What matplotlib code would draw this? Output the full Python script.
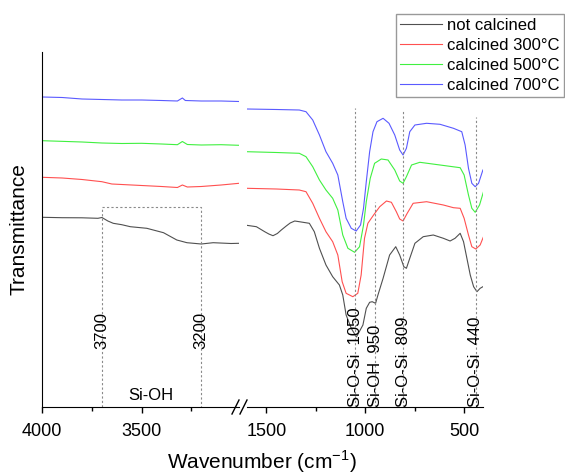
import matplotlib
matplotlib.use("Agg")
import matplotlib.pyplot as plt
from matplotlib.lines import Line2D

plt.rcParams['font.family'] = ['Liberation Sans', 'DejaVu Sans']
plt.rcParams['mathtext.fontset'] = 'custom'
plt.rcParams['mathtext.rm'] = 'Liberation Sans'

# ---- data (arbitrary transmittance units, curves offset) ----
labels = ["not calcined", "calcined 300°C", "calcined 500°C", "calcined 700°C"]
colors = ['#505050', '#ff5050', '#40f040', '#5a5aff']

# high wavenumber part (4000 - 3000)
wn_hi = [[4000, 3900, 3800, 3720, 3700, 3670, 3643, 3600, 3557, 3474, 3390, 3323, 3272, 3200, 3140, 3050, 3010],
         [4000, 3900, 3800, 3700, 3650, 3600, 3500, 3400, 3320, 3295, 3270, 3200, 3100, 3010],
         [4000, 3800, 3700, 3600, 3500, 3400, 3320, 3295, 3270, 3200, 3100, 3010],
         [4000, 3900, 3800, 3700, 3600, 3500, 3400, 3320, 3295, 3280, 3200, 3100, 3010]]
tr_hi = [[189.7, 189.3, 189.2, 188.7, 189.5, 186.0, 183.7, 182.3, 180.3, 178.7, 174.3, 167.0, 164.3, 163.0, 164.3, 163.5, 163.7],
         [229.7, 229.0, 227.5, 225.3, 223.0, 222.5, 221.5, 220.5, 219.5, 222.0, 220.0, 220.5, 222.0, 223.7],
         [266.3, 265.0, 264.0, 263.5, 263.7, 263.0, 262.3, 265.5, 262.5, 262.0, 262.3, 261.7],
         [310.0, 309.5, 308.0, 307.5, 307.0, 307.0, 306.5, 306.0, 309.0, 306.5, 306.0, 306.0, 305.5]]

# low wavenumber part (1600 - 400)
wn_lo = [[1600, 1551, 1509, 1488, 1467, 1445, 1425, 1400, 1380, 1357, 1334, 1283, 1258, 1232, 1199, 1165, 1131, 1114, 1097, 1071, 1045,
          1012, 995, 978, 965, 948, 936, 910, 877, 846, 826, 805, 792, 775, 749, 707, 656, 605, 571, 546, 520, 503, 486, 469, 452, 435, 419, 405],
         [1600, 1450, 1334, 1300, 1266, 1232, 1199, 1165, 1139, 1117, 1097, 1063, 1038, 1021, 1004, 987, 958, 927, 893, 868, 843, 826, 809,
          788, 758, 690, 605, 554, 520, 500, 478, 461, 441, 419, 402],
         [1600, 1450, 1334, 1300, 1266, 1232, 1199, 1165, 1139, 1114, 1088, 1054, 1029, 1009, 995, 975, 953, 919, 885, 851, 826, 809,
          792, 766, 724, 622, 520, 500, 478, 461, 444, 422, 402],
         [1600, 1450, 1334, 1300, 1266, 1232, 1199, 1165, 1139, 1114, 1097, 1071, 1046, 1024, 1009, 995, 978, 961, 941, 910, 880, 851, 826,
          809, 792, 775, 749, 690, 622, 554, 512, 495, 478, 461, 444, 427, 405]]
tr_lo = [[181.7, 180.3, 175.3, 173.0, 171.3, 173.5, 177.0, 181.0, 184.0, 186.0, 185.3, 183.7, 175.3, 158.7, 142.0, 130.3, 122.0, 112.0, 92.0, 78.7, 70.0,
          82.0, 98.7, 104.7, 105.3, 103.7, 112.0, 128.7, 152.0, 160.3, 152.0, 140.3, 138.7, 148.7, 163.7, 170.3, 172.0, 168.7, 166.0, 168.7, 173.7, 165.3, 148.7, 132.0, 120.3, 115.3, 118.7, 120.3],
         [218.7, 218.0, 217.0, 215.3, 203.7, 188.7, 175.3, 165.3, 152.0, 125.3, 113.7, 110.3, 113.7, 132.0, 168.7, 183.7, 192.0, 200.3, 206.0, 204.7, 195.3, 188.0, 186.0,
          193.7, 203.7, 205.3, 202.0, 199.3, 198.7, 188.7, 172.0, 160.3, 158.0, 162.0, 170.3],
         [255.3, 254.5, 253.7, 250.3, 240.3, 227.0, 217.0, 208.7, 197.0, 172.0, 158.7, 154.7, 160.3, 182.0, 205.3, 228.7, 243.7, 248.0, 247.0, 237.0, 226.0, 223.7,
          230.3, 242.0, 244.7, 242.0, 239.3, 232.0, 212.0, 198.7, 194.7, 202.0, 215.3],
         [298.0, 297.5, 297.0, 295.3, 287.0, 272.0, 255.3, 243.7, 232.0, 205.3, 188.7, 178.7, 176.0, 182.0, 198.7, 225.3, 255.3, 275.3, 285.3, 288.7, 283.7, 272.0, 257.0,
          252.0, 258.7, 275.3, 282.0, 283.7, 282.7, 278.7, 275.3, 262.0, 238.7, 223.7, 220.3, 223.7, 237.0]]

# band markers
oh_range = [3700, 3200]
oh_top = 200
peaks = [1050, 950, 809, 440]
peak_top = [299, 205, 297, 290]
peak_names = ["Si-O-Si  1050", "Si-OH  950", "Si-O-Si  809", "Si-O-Si  440"]

fig = plt.figure(figsize=(5.65, 4.75), dpi=100)
W, H = 565, 475
bot = (H - 407) / H
hgt = (407 - 52) / H
ax1 = fig.add_axes([42.3 / W, bot, (239 - 42.3) / W, hgt])
ax2 = fig.add_axes([246.7 / W, bot, (483.3 - 246.7) / W, hgt])

for i in range(4):
    ax1.plot(wn_hi[i], tr_hi[i], color=colors[i], lw=0.8)
    ax2.plot(wn_lo[i], tr_lo[i], color=colors[i], lw=0.8, label=labels[i])

dash = dict(color='#8a8a8a', lw=0.8, ls=(0, (2, 2)))
ax1.plot([oh_range[0], oh_range[0], oh_range[1], oh_range[1]], [0, oh_top, oh_top, 0], **dash)
for w in oh_range:
    ax1.text(w, 76.5, str(w), rotation=90, ha='center', va='center', fontsize=12)
ax1.text(sum(oh_range) / 2 + 4, 12, "Si-OH", ha='center', va='center', fontsize=12)

for p, t, n in zip(peaks, peak_top, peak_names):
    ax2.plot([p, p], [0, t], **dash)
    ax2.text(p, 0, n, rotation=90, ha='center', va='bottom', fontsize=12)

ax1.set_xlim(4000, 3010)
ax2.set_xlim(1600, 403)
for ax in (ax1, ax2):
    ax.set_ylim(0, 355)
    ax.spines['top'].set_visible(False)
    ax.spines['right'].set_visible(False)
    ax.set_yticks([])
    ax.tick_params(axis='x', which='major', length=4.5, width=1, pad=7, labelsize=13, direction='out')
    ax.tick_params(axis='x', which='minor', length=3, width=1, direction='out')
    ax.patch.set_alpha(0)
ax2.spines['left'].set_visible(False)
ax1.set_xticks([4000, 3500])
ax1.set_xticks([3750, 3250], minor=True)
ax2.set_xticks([1500, 1000, 500])
ax2.set_xticks([1250, 750], minor=True)

# break marks
for xb in (235.5, 243.5):
    fig.add_artist(Line2D([(xb - 3.5) / W, (xb + 3.5) / W], [(H - 414) / H, (H - 400) / H],
                          color='black', lw=1, transform=fig.transFigure))

fig.text(19 / W, 1 - 229.5 / H, "Transmittance", rotation=90, ha='center', va='center', fontsize=15)
fig.text(262 / W, 1 - 462 / H, "Wavenumber (cm$^{-1}$)", ha='center', va='center', fontsize=15)

leg = fig.legend(loc='upper right', bbox_to_anchor=(564 / W, 1 - 14 / H), bbox_transform=fig.transFigure,
                 fontsize=12, frameon=True, fancybox=False, borderpad=0.25, labelspacing=0.3,
                 handlelength=2.5, handletextpad=0.35, borderaxespad=0)
leg.get_frame().set_edgecolor('#808080')
leg.get_frame().set_linewidth(1)

fig.savefig("out.png", dpi=100)
